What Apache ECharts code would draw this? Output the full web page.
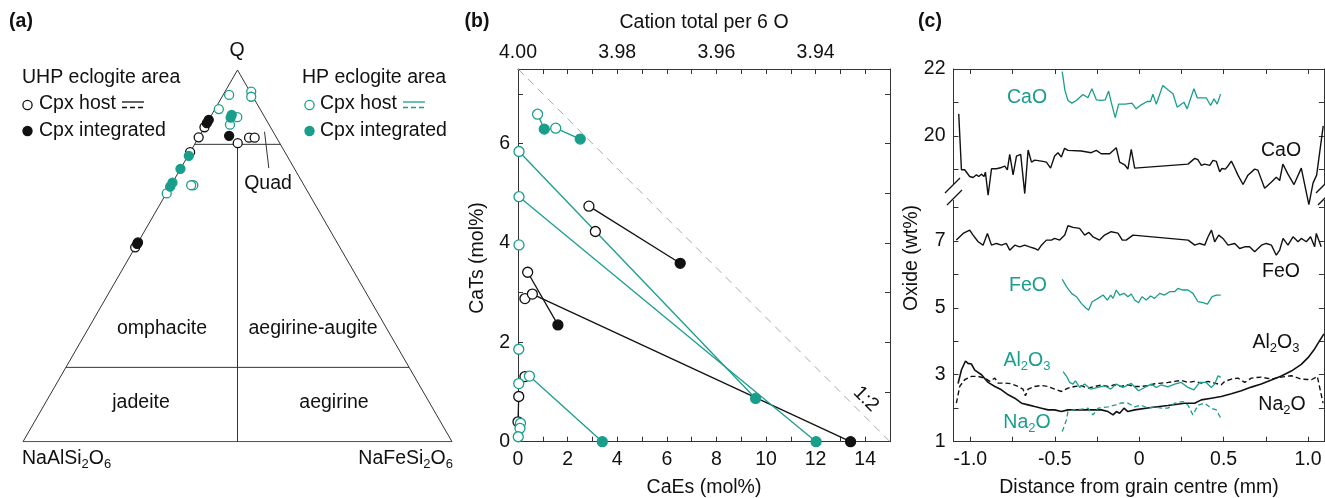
<!DOCTYPE html>
<html>
<head>
<meta charset="utf-8">
<script src="https://cdn.jsdelivr.net/npm/echarts@6/dist/echarts.min.js"></script>
<style>
  html, body { margin: 0; padding: 0; background: #fff; }
  #chart { width: 1325px; height: 498px; }
</style>
</head>
<body>
<div id="chart"></div>
<script>
const TEAL = '#1a9e8c';
const INK = '#111111';
const AXIS = '#333333';
const FONT = '"Liberation Sans", Arial, Helvetica, sans-serif';
const FS = 19.5;

// (a) ternary Q - Jd - Ae : points as [Q %, Ae %], Jd is the rest
const uhpHostA = [[81.9, 0], [84.6, 0], [77.9, 0], [80.3, 9.9], [81.8, 11.8], [81.8, 13.1], [52.3, 0]];
const uhpIntA = [[85.7, 0], [86.6, 0], [82.3, 6.9], [53.6, 0], [53.2, 0]];
const hpHostA = [[93.3, 1.4], [94.2, 6.1], [92.8, 6.8], [89.5, 0.9], [87.3, 6.3], [85.3, 5.6], [69.0, 5.2], [69.0, 4.7], [66.8, 0.1]];
const hpIntA = [[87.9, 4.7], [87.2, 4.8], [76.9, 0.2], [73.4, 0], [69.7, 0], [68.6, 0]];
// field boundaries, [Q, Ae]
const triFrame = [[100, 0], [0, 0], [0, 100], [100, 0]];
const q20Line = [[20, 0], [20, 80]];
const q80Line = [[80, 0], [80, 20]];
const midLine = [[80, 10], [0, 50]];
const quadLeader = [[83.4, 14.6], [73.6, 20.5]];

// (b) CaEs vs CaTs (mol%)
const uhpHostB = [[2.86, 4.74], [3.12, 4.23], [0.39, 3.41], [0.28, 2.88], [0.58, 2.97], [0.28, 1.31], [0.03, 0.91], [0, 0.40]];
const uhpIntB = [[6.54, 3.59], [1.61, 2.35], [13.41, 0]];
const hpHostB = [[0.79, 6.59], [1.52, 6.31], [0.04, 5.84], [0.04, 4.93], [0.04, 3.96], [0.03, 1.86], [0.46, 1.32], [0.03, 1.17], [0.10, 0.37], [0.08, 0.27], [0.01, 0.10]];
const hpIntB = [[1.06, 6.29], [2.51, 6.09], [9.58, 0.87], [12.02, 0], [3.40, 0]];
const uhpLinks = [[[2.86, 4.74], [6.54, 3.59]], [[0.39, 3.41], [1.61, 2.35]], [[0.58, 2.97], [13.41, 0]], [[0.03, 0.91], [0, 0.40]]];
const hpLinks = [[[0.04, 5.84], [9.58, 0.87]], [[0.04, 4.93], [12.02, 0]], [[0.46, 1.32], [3.40, 0]], [[0.79, 6.59], [1.06, 6.29]], [[1.52, 6.31], [2.51, 6.09]]];
const ratioLine = [[0, 7.5], [15, 0]];

// (c) profiles, [distance mm, wt%]
const caoUhp = [[-1.069, 20.66], [-1.053, 18.99], [-1.034, 18.99], [-1.004, 18.79], [-0.984, 18.76], [-0.964, 18.84], [-0.95, 18.79], [-0.935, 18.86], [-0.919, 18.79], [-0.911, 18.92], [-0.895, 18.23], [-0.875, 19.02], [-0.846, 19.02], [-0.816, 19.06], [-0.796, 19.1], [-0.781, 18.99], [-0.767, 19.45], [-0.747, 18.84], [-0.727, 19.4], [-0.702, 19.45], [-0.678, 18.28], [-0.658, 19.58], [-0.638, 19.22], [-0.619, 19.28], [-0.579, 19.25], [-0.55, 19.22], [-0.525, 19.04], [-0.501, 19.4], [-0.481, 19.5], [-0.461, 19.37], [-0.442, 19.63], [-0.422, 19.57], [-0.343, 19.55], [-0.284, 19.5], [-0.254, 19.57], [-0.225, 19.47], [-0.175, 19.47], [-0.136, 19.65], [-0.116, 19.22], [-0.086, 19.14], [-0.067, 19.01], [-0.047, 19.6], [-0.027, 19.04], [0.289, 19.16], [0.329, 19.33], [0.348, 19.29], [0.368, 19.12], [0.388, 19.16], [0.418, 19.12], [0.437, 19.27], [0.457, 19.24], [0.477, 18.93], [0.49, 19.03], [0.51, 19.01], [0.522, 19.08], [0.546, 19.25], [0.565, 19.05], [0.585, 18.83], [0.615, 18.55], [0.644, 18.83], [0.684, 19.01], [0.703, 18.98], [0.743, 18.44], [0.782, 18.62], [0.812, 18.77], [0.832, 18.67], [0.851, 19.16], [0.881, 18.86], [0.917, 18.55], [0.96, 19.04], [1.005, 17.95], [1.03, 18.6], [1.051, 18.83], [1.09, 20.3]];
const caoHp = [[-0.456, 21.92], [-0.44, 21.36], [-0.422, 21.06], [-0.399, 20.98], [-0.373, 21.06], [-0.333, 21.24], [-0.304, 21.14], [-0.28, 21.41], [-0.254, 21.08], [-0.225, 21.06], [-0.201, 21.08], [-0.181, 21.34], [-0.166, 21.01], [-0.142, 20.55], [-0.122, 20.95], [-0.083, 20.95], [-0.043, 20.98], [-0.018, 20.81], [0.012, 20.93], [0.047, 21.03], [0.067, 21.03], [0.081, 21.25], [0.101, 20.95], [0.14, 21.51], [0.17, 21.38], [0.2, 21.26], [0.225, 20.86], [0.265, 21.01], [0.284, 20.81], [0.324, 21.41], [0.344, 21.14], [0.397, 21.14], [0.423, 20.91], [0.443, 21.11], [0.462, 20.95], [0.482, 21.25]];
const feoUhp = [[-1.083, 7.02], [-1.043, 7.22], [-1.004, 7.32], [-0.984, 7.17], [-0.954, 6.97], [-0.925, 6.87], [-0.899, 7.22], [-0.875, 6.87], [-0.846, 6.92], [-0.816, 6.87], [-0.787, 6.92], [-0.767, 6.72], [-0.737, 6.87], [-0.708, 6.82], [-0.678, 6.87], [-0.649, 6.82], [-0.619, 6.77], [-0.599, 6.72], [-0.579, 6.87], [-0.55, 7.02], [-0.52, 7.02], [-0.501, 7.07], [-0.471, 7.02], [-0.441, 7.17], [-0.422, 7.45], [-0.392, 7.40], [-0.353, 7.37], [-0.323, 7.17], [-0.298, 7.25], [-0.274, 7.12], [-0.235, 7.02], [-0.205, 7.17], [-0.166, 7.27], [-0.126, 7.23], [-0.1, 7.02], [-0.077, 7.02], [-0.037, 7.17], [0.29, 7.02], [0.329, 6.87], [0.358, 6.92], [0.388, 6.87], [0.408, 7.12], [0.428, 7.32], [0.447, 6.97], [0.471, 7.17], [0.496, 7.07], [0.526, 6.87], [0.566, 6.92], [0.595, 6.77], [0.625, 6.82], [0.654, 6.82], [0.684, 6.67], [0.724, 6.87], [0.753, 6.92], [0.783, 6.87], [0.812, 6.57], [0.832, 6.72], [0.852, 7.07], [0.881, 6.87], [0.911, 7.12], [0.941, 6.97], [0.96, 7.07], [0.99, 6.97], [1.015, 7.12], [1.039, 6.82], [1.049, 7.22], [1.078, 6.82]];
const feoHp = [[-0.456, 5.85], [-0.431, 5.63], [-0.401, 5.43], [-0.372, 5.33], [-0.343, 5.13], [-0.313, 4.98], [-0.299, 4.93], [-0.279, 5.18], [-0.244, 5.28], [-0.214, 5.38], [-0.189, 5.23], [-0.169, 5.38], [-0.155, 5.28], [-0.136, 5.53], [-0.116, 5.38], [-0.09, 5.43], [-0.067, 5.33], [-0.047, 5.41], [-0.027, 5.23], [-0.004, 5.15], [0.016, 5.33], [0.042, 5.23], [0.067, 5.35], [0.091, 5.28], [0.121, 5.43], [0.15, 5.38], [0.18, 5.48], [0.21, 5.48], [0.229, 5.58], [0.259, 5.53], [0.289, 5.53], [0.318, 5.43], [0.348, 5.18], [0.378, 5.15], [0.404, 5.11], [0.432, 5.33], [0.457, 5.38], [0.483, 5.38]];
const alUhp = [[-1.073, 2.74], [-1.053, 3.14], [-1.029, 3.41], [-1.014, 3.34], [-0.994, 3.32], [-0.974, 3.14], [-0.934, 3.0], [-0.895, 2.77], [-0.855, 2.65], [-0.816, 2.55], [-0.776, 2.4], [-0.737, 2.3], [-0.697, 2.15], [-0.658, 2.1], [-0.619, 2.05], [-0.579, 2.0], [-0.54, 1.95], [-0.501, 1.95], [-0.461, 1.9], [-0.422, 1.95], [-0.382, 1.95], [-0.303, 1.95], [-0.224, 1.95], [-0.185, 1.9], [-0.155, 1.8], [-0.135, 1.9], [-0.116, 1.85], [-0.09, 2.0], [-0.067, 1.9], [-0.027, 1.95], [0.071, 2.02], [0.17, 2.08], [0.269, 2.15], [0.328, 2.15], [0.368, 2.25], [0.427, 2.3], [0.486, 2.35], [0.546, 2.43], [0.605, 2.52], [0.664, 2.63], [0.723, 2.72], [0.783, 2.84], [0.842, 2.96], [0.901, 3.11], [0.96, 3.31], [1.0, 3.51], [1.039, 3.77], [1.069, 4.02], [1.094, 4.22]];
const naUhp = [[-1.083, 2.15], [-1.063, 2.65], [-1.034, 2.85], [-0.994, 2.95], [-0.954, 2.95], [-0.915, 2.9], [-0.885, 2.8], [-0.855, 2.9], [-0.836, 2.75], [-0.796, 2.75], [-0.757, 2.73], [-0.717, 2.65], [-0.688, 2.57], [-0.674, 2.37], [-0.658, 2.57], [-0.619, 2.65], [-0.579, 2.68], [-0.54, 2.65], [-0.501, 2.57], [-0.461, 2.5], [-0.422, 2.6], [-0.382, 2.65], [-0.343, 2.67], [-0.303, 2.6], [-0.264, 2.65], [-0.224, 2.69], [-0.185, 2.65], [-0.145, 2.7], [-0.106, 2.65], [-0.067, 2.7], [-0.027, 2.65], [0.012, 2.65], [0.052, 2.67], [0.091, 2.73], [0.131, 2.75], [0.17, 2.77], [0.21, 2.8], [0.249, 2.83], [0.289, 2.77], [0.328, 2.8], [0.368, 2.75], [0.407, 2.8], [0.447, 2.75], [0.486, 2.7], [0.506, 2.8], [0.546, 2.87], [0.585, 2.9], [0.625, 2.77], [0.664, 2.9], [0.723, 2.93], [0.783, 2.87], [0.842, 2.93], [0.901, 2.97], [0.96, 2.87], [1.02, 2.85], [1.055, 2.95], [1.089, 2.15]];
const alHp = [[-0.451, 3.09], [-0.431, 2.96], [-0.412, 2.77], [-0.392, 2.72], [-0.378, 2.82], [-0.353, 2.62], [-0.323, 2.72], [-0.288, 2.57], [-0.244, 2.62], [-0.205, 2.67], [-0.169, 2.57], [-0.136, 2.72], [-0.096, 2.62], [-0.047, 2.74], [-0.004, 2.52], [0.032, 2.62], [0.071, 2.72], [0.101, 2.62], [0.131, 2.7], [0.17, 2.64], [0.21, 2.72], [0.249, 2.77], [0.289, 2.62], [0.324, 2.55], [0.358, 2.77], [0.397, 2.77], [0.427, 2.62], [0.447, 2.72], [0.467, 2.97], [0.483, 2.92]];
const naHp = [[-0.456, 1.30], [-0.431, 1.65], [-0.422, 1.90], [-0.392, 1.95], [-0.343, 1.97], [-0.303, 2.0], [-0.274, 1.80], [-0.244, 2.0], [-0.185, 2.04], [-0.145, 2.09], [-0.106, 2.16], [-0.067, 2.15], [-0.027, 2.04], [0.012, 2.09], [0.052, 2.0], [0.091, 2.04], [0.131, 2.0], [0.17, 2.0], [0.21, 2.15], [0.259, 2.2], [0.289, 2.09], [0.318, 1.80], [0.348, 2.09], [0.387, 2.15], [0.427, 2.0], [0.457, 1.95], [0.483, 1.70]];

// broken y axis in (c): upper CaO block is drawn shifted down by this
const SHIFT = 9.87;
const xTicksC = [-1, -0.75, -0.5, -0.25, 0, 0.25, 0.5, 0.75, 1];
const xLabelsC = [-1, -0.5, 0, 0.5, 1];
const yTicksC = [1, 2, 3, 4, 5, 6, 7, 8, 19, 20, 21, 22];
const yLabelsC = [1, 3, 5, 7, 20, 22];

const tern = (p) => [p[1] / 100 + p[0] / 200, p[0] / 100];
const toC = (v) => (v > 12 ? v - SHIFT : v);

const chart = echarts.init(document.getElementById('chart'));

// xi: x axis index, yi: y axis index
function lineSeries(data, xi, yi, color, width, type) {
    return {
        type: 'line', xAxisIndex: xi, yAxisIndex: yi, data: data,
        symbol: 'none', silent: true, z: 2,
        lineStyle: { color: color, width: width, type: type || 'solid' }
    };
}
function dots(data, xi, yi, color, filled, size) {
    return {
        type: 'scatter', xAxisIndex: xi, yAxisIndex: yi, data: data,
        symbol: 'circle', symbolSize: size, z: 3,
        itemStyle: { color: filled ? color : '#fff', borderColor: color, borderWidth: 1.3, opacity: 1 }
    };
}
function txt(text, x, y, o) {
    o = o || {};
    return {
        type: 'text', x: x, y: y, rotation: o.rot || 0, z: 10,
        style: {
            text: text, fill: o.color || INK, fontSize: o.size || FS, fontFamily: FONT,
            fontWeight: o.bold ? 'bold' : 'normal',
            align: o.align || 'center', verticalAlign: 'middle',
            textAlign: o.align || 'center', textVerticalAlign: 'middle',
            lineHeight: 24,
            rich: {
                s: { fontSize: 13, fontFamily: FONT, fill: o.color || INK, lineHeight: 12, verticalAlign: 'bottom' }
            }
        }
    };
}
function seg(x1, y1, x2, y2, color, dash) {
    return {
        type: 'line', z: 10,
        shape: { x1: x1, y1: y1, x2: x2, y2: y2 },
        style: { stroke: color, lineWidth: 1.3, lineDash: dash || null }
    };
}
function boxAxis(extra) {
    return Object.assign({
        type: 'value',
        axisLine: { show: true, onZero: false, lineStyle: { color: AXIS, width: 1 } },
        axisTick: { show: true, inside: true, length: 5, lineStyle: { color: AXIS } },
        axisLabel: { color: INK, fontSize: FS, fontFamily: FONT, margin: 8 },
        splitLine: { show: false }
    }, extra);
}

const series = [];
// (a)  axes 0 / 0
[triFrame, q20Line, q80Line, midLine, quadLeader].forEach(l => series.push(lineSeries(l.map(tern), 0, 0, AXIS, 1)));
series.push(dots(uhpHostA.map(tern), 0, 0, INK, false, 9));
series.push(dots(uhpIntA.map(tern), 0, 0, INK, true, 9));
series.push(dots(hpHostA.map(tern), 0, 0, TEAL, false, 9));
series.push(dots(hpIntA.map(tern), 0, 0, TEAL, true, 9));
// (b)  axes 1 / 1
series.push(lineSeries(ratioLine, 1, 1, '#aaaaaa', 1, [8, 6]));
uhpLinks.forEach(l => series.push(lineSeries(l, 1, 1, INK, 1.3)));
hpLinks.forEach(l => series.push(lineSeries(l, 1, 1, TEAL, 1.3)));
series.push(dots(uhpHostB, 1, 1, INK, false, 10));
series.push(dots(uhpIntB, 1, 1, INK, true, 10));
series.push(dots(hpHostB, 1, 1, TEAL, false, 10));
series.push(dots(hpIntB, 1, 1, TEAL, true, 10));
// (c)  axes 3 / 3
const shifted = (arr) => arr.map(p => [p[0], p[1] - SHIFT]);
series.push(lineSeries(shifted(caoUhp), 3, 3, INK, 1.4));
series.push(lineSeries(shifted(caoHp), 3, 3, TEAL, 1.3));
series.push(lineSeries(feoUhp, 3, 3, INK, 1.4));
series.push(lineSeries(feoHp, 3, 3, TEAL, 1.3));
series.push(lineSeries(naUhp, 3, 3, INK, 1.4, [5, 3]));
series.push(lineSeries(alUhp, 3, 3, INK, 1.6));
series.push(lineSeries(alHp, 3, 3, TEAL, 1.3));
series.push(lineSeries(naHp, 3, 3, TEAL, 1.3, [5, 3]));

const graphic = [
    // panel tags
    txt('(a)', 21, 22, { bold: true }),
    txt('(b)', 477, 22, { bold: true }),
    txt('(c)', 930, 22, { bold: true }),
    // (a) annotations
    txt('Q', 237, 51),
    txt('NaAlSi{s|2}O{s|6}', 22, 459, { align: 'left' }),
    txt('NaFeSi{s|2}O{s|6}', 453, 459, { align: 'right' }),
    txt('omphacite', 162, 329),
    txt('aegirine-augite', 313, 329),
    txt('jadeite', 141, 403),
    txt('aegirine', 334, 403),
    txt('Quad', 268, 184),
    txt('UHP eclogite area', 22, 78, { align: 'left' }),
    txt('Cpx host', 39, 104, { align: 'left' }),
    txt('Cpx integrated', 39, 131, { align: 'left' }),
    txt('HP eclogite area', 302, 78, { align: 'left' }),
    txt('Cpx host', 320, 104, { align: 'left' }),
    txt('Cpx integrated', 320, 131, { align: 'left' }),
    { type: 'circle', shape: { cx: 27.5, cy: 105, r: 4.6 }, style: { fill: '#fff', stroke: INK, lineWidth: 1.3 }, z: 10 },
    { type: 'circle', shape: { cx: 27.5, cy: 131, r: 5.2 }, style: { fill: INK }, z: 10 },
    { type: 'circle', shape: { cx: 309.5, cy: 105, r: 4.6 }, style: { fill: '#fff', stroke: TEAL, lineWidth: 1.3 }, z: 10 },
    { type: 'circle', shape: { cx: 309.5, cy: 131, r: 5.2 }, style: { fill: TEAL }, z: 10 },
    seg(122, 102, 144, 102, INK),
    seg(122, 107.5, 144, 107.5, INK, [5, 3]),
    seg(403, 102, 425, 102, TEAL),
    seg(403, 107.5, 425, 107.5, TEAL, [5, 3]),
    // (b) annotations
    txt('Cation total per 6 O', 704, 23),
    txt('CaEs (mol%)', 704, 488),
    txt('CaTs (mol%)', 478, 258, { rot: Math.PI / 2 }),
    txt('1:2', 866, 399, { rot: -Math.PI / 4 }),
    // (c) annotations
    txt('Distance from grain centre (mm)', 1139, 488),
    txt('Oxide (wt%)', 912, 258, { rot: Math.PI / 2 }),
    txt('CaO', 1027, 98, { color: TEAL }),
    txt('CaO', 1281, 151),
    txt('FeO', 1281, 272),
    txt('FeO', 1028, 286, { color: TEAL }),
    txt('Al{s|2}O{s|3}', 1276, 343),
    txt('Al{s|2}O{s|3}', 1027, 361, { color: TEAL }),
    txt('Na{s|2}O', 1282, 405),
    txt('Na{s|2}O', 1027, 423, { color: TEAL }),
    // axis break marks in (c)
    { type: 'rect', shape: { x: 949, y: 184, width: 9, height: 16 }, style: { fill: '#fff' }, z: 9 },
    { type: 'rect', shape: { x: 1319, y: 184, width: 8, height: 16 }, style: { fill: '#fff' }, z: 9 },
    seg(945, 193, 960, 178, INK),
    seg(947, 205, 962, 190, INK),
    seg(1316, 193, 1331, 178, INK),
    seg(1318, 205, 1333, 190, INK)
];

const option = {
    animation: false,
    backgroundColor: '#fff',
    grid: [
        { left: 23, top: 70, width: 429, height: 371.7 },
        { left: 518, top: 69, width: 372, height: 372.7 },
        { left: 953.5, top: 69, width: 370.4, height: 372.7 }
    ],
    xAxis: [
        { type: 'value', gridIndex: 0, min: 0, max: 1, show: false },
        boxAxis({ gridIndex: 1, position: 'bottom', min: 0, max: 15, interval: 1,
            axisLabel: { color: INK, fontSize: FS, fontFamily: FONT, margin: 8,
                formatter: v => (v % 2 === 0 && v < 15 ? String(v) : '') } }),
        boxAxis({ gridIndex: 1, position: 'top', min: 0, max: 15, interval: 1,
            axisLabel: { color: INK, fontSize: FS, fontFamily: FONT, margin: 6,
                formatter: v => (v % 4 === 0 ? (4 - v * 0.005).toFixed(2) : '') } }),
        boxAxis({ gridIndex: 2, position: 'bottom', min: -1.1, max: 1.094,
            axisTick: { show: true, inside: true, length: 5, lineStyle: { color: AXIS }, customValues: xTicksC },
            axisLabel: { color: INK, fontSize: FS, fontFamily: FONT, margin: 8, customValues: xLabelsC,
                formatter: v => (v === 0 ? '0' : v.toFixed(1)) } }),
        boxAxis({ gridIndex: 2, position: 'top', min: -1.1, max: 1.094,
            axisTick: { show: true, inside: true, length: 5, lineStyle: { color: AXIS }, customValues: xTicksC },
            axisLabel: { show: false } })
    ],
    yAxis: [
        { type: 'value', gridIndex: 0, min: 0, max: 1, show: false },
        boxAxis({ gridIndex: 1, position: 'left', min: 0, max: 7.5, interval: 1,
            axisLabel: { color: INK, fontSize: FS, fontFamily: FONT, margin: 8,
                formatter: v => (v % 2 === 0 ? String(v) : '') } }),
        boxAxis({ gridIndex: 1, position: 'right', min: 0, max: 7.5, interval: 1, axisLabel: { show: false } }),
        boxAxis({ gridIndex: 2, position: 'left', min: 1, max: 22 - SHIFT,
            axisTick: { show: true, inside: true, length: 5, lineStyle: { color: AXIS }, customValues: yTicksC.map(toC) },
            axisLabel: { color: INK, fontSize: FS, fontFamily: FONT, margin: 8, customValues: yLabelsC.map(toC),
                formatter: v => String(Math.round(v > 8.5 ? v + SHIFT : v)) } }),
        boxAxis({ gridIndex: 2, position: 'right', min: 1, max: 22 - SHIFT,
            axisTick: { show: true, inside: true, length: 5, lineStyle: { color: AXIS }, customValues: yTicksC.map(toC) },
            axisLabel: { show: false } })
    ],
    series: series,
    graphic: graphic
};
chart.setOption(option);
</script>
</body>
</html>
